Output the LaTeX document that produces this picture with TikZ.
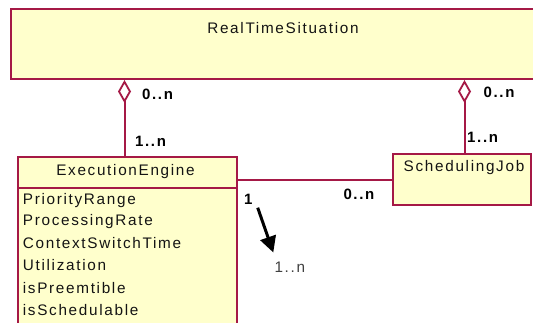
\documentclass[tikz,border=0pt]{standalone}
\usepackage{fontspec}
\setmainfont{Liberation Sans}[LetterSpace=11]
\usetikzlibrary{arrows.meta}
\definecolor{umlborder}{RGB}{165,25,70}
\definecolor{umlfill}{RGB}{255,255,204}
\definecolor{umltext}{RGB}{20,20,20}
\begin{document}
\begin{tikzpicture}[x=1pt,y=-1pt,
  font=\fontsize{15.3}{18}\selectfont,
  cls/.style={draw=umlborder, fill=umlfill, line width=2pt, inner sep=0pt, anchor=north west},
  assoc/.style={draw=umlborder, line width=2pt},
  txt/.style={inner sep=0pt, text=umltext},
  attr/.style={txt, anchor=base west},
  mult/.style={inner sep=0pt, anchor=base west, text=black, font=\fontsize{15}{18}\selectfont\bfseries}]
\useasboundingbox (0,0) rectangle (533,323);
\clip (0,0) rectangle (533,323);

% classes
\node[cls, minimum width=540, minimum height=70] (rts) at (10,8) {};
\node[txt, anchor=base] (rtsname) at (283,34) {RealTimeSituation};

\node[cls, minimum width=218.7, minimum height=200] (ee) at (17,156) {};
\draw[assoc] ([yshift=-32]ee.north west) -- ([yshift=-32]ee.north east);
\node[txt, anchor=base] (eename) at (125.5,176) {ExecutionEngine};
\node[attr] (a1) at (22.7,205) {PriorityRange};
\node[attr] (a2) at (22.7,225.7) {ProcessingRate};
\node[attr] (a3) at (22.7,248.3) {ContextSwitchTime};
\node[attr] (a4) at (22.7,270.7) {Utilization};
\node[attr] (a5) at (22.7,293.3) {isPreemtible};
\node[attr] (a6) at (22.7,316) {isSchedulable};

\node[cls, minimum width=138.3, minimum height=50.7] (sj) at (391.7,153.3) {};
\node[txt, anchor=base] (sjname) at (464,171.7) {SchedulingJob};

% aggregations from the situation
\coordinate (xl) at (124.5,0);
\coordinate (xr) at (464.5,0);
\coordinate (ya) at (0,180);
\draw[assoc, -{Diamond[open, length=23pt, width=13pt, line width=1.8pt]}]
  (xl |- ee.north) -- (xl |- rts.south);
\draw[assoc, -{Diamond[open, length=23pt, width=13pt, line width=1.8pt]}]
  (xr |- sj.north) -- (xr |- rts.south);
\draw[assoc] (ee.east |- ya) -- (sj.west |- ya);

% multiplicities
\node[mult] (m1) at (142,100) {0..n};
\node[mult] (m2) at (135,146.7) {1..n};
\node[mult] (m3) at (483.5,98) {0..n};
\node[mult] (m4) at (467,142.7) {1..n};
\node[mult] (m5) at (244,205) {1};
\node[mult] (m6) at (343.3,199.3) {0..n};

% direction of the association
\coordinate (dirA) at (257.7,207.7);
\coordinate (dirB) at (273.3,252.5);
\draw[line width=3pt, -{Triangle[length=16pt, width=16pt]}] (dirA) -- (dirB);
\node[inner sep=0pt, anchor=base west, text=black!75] (m7) at (274.3,272.7) {1..n};
\end{tikzpicture}
\end{document}
